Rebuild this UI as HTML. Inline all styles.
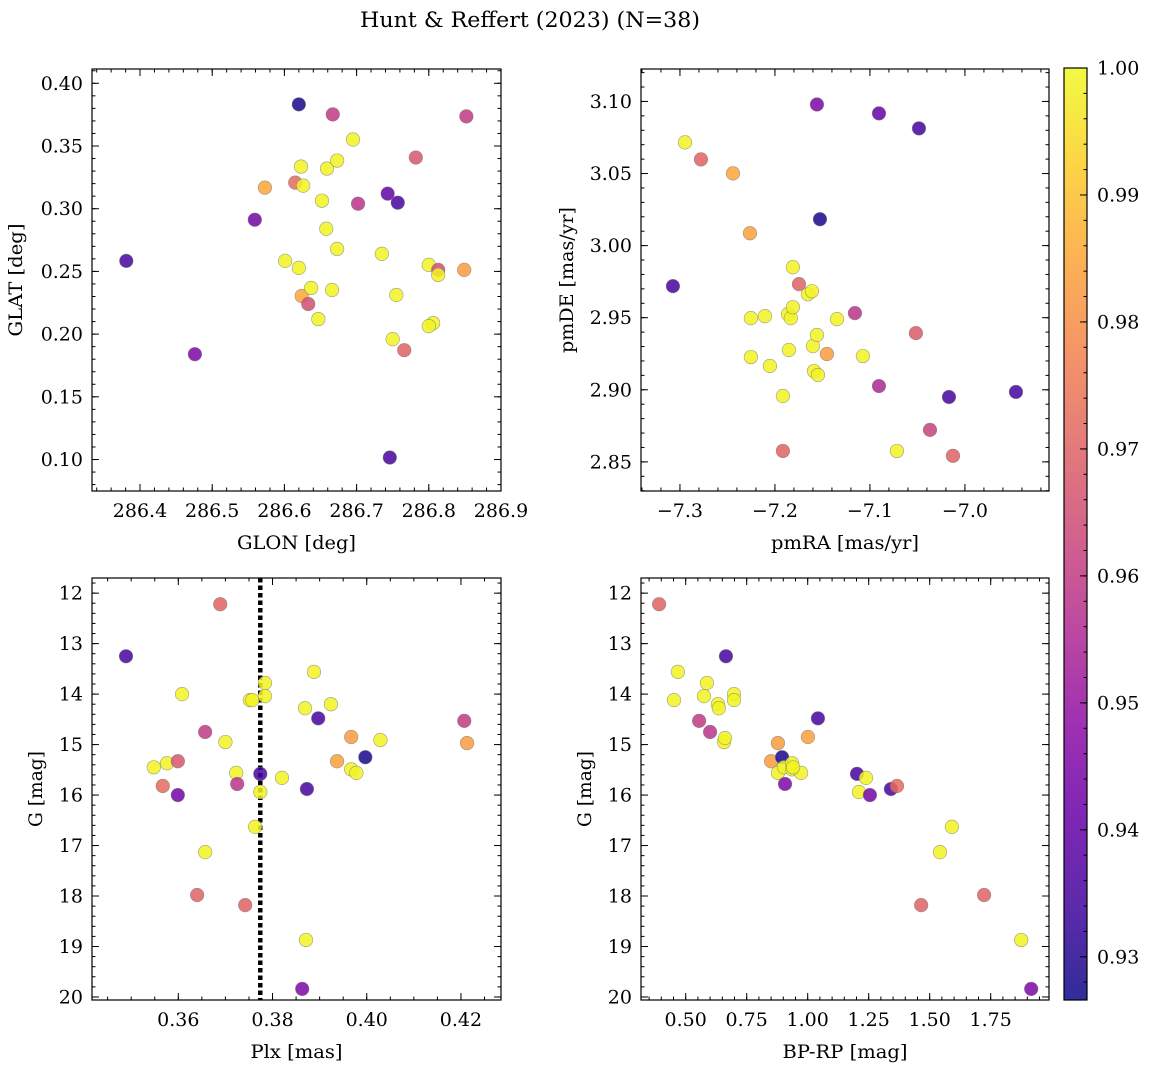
<!DOCTYPE html>
<html><head><meta charset="utf-8">
<style>
html,body{margin:0;padding:0;background:#fff;}
svg{display:block;font-family:"DejaVu Serif","Liberation Serif",serif;}
</style></head>
<body>
<svg id="fig" width="1149" height="1068" viewBox="0 0 1149 1068" xmlns="http://www.w3.org/2000/svg">
<defs>
<linearGradient id="plasma" x1="0" y1="1" x2="0" y2="0">
<stop offset="0" stop-color="#0d0887"/><stop offset="0.1" stop-color="#41049d"/><stop offset="0.2" stop-color="#6a00a8"/><stop offset="0.3" stop-color="#8f0da4"/><stop offset="0.4" stop-color="#b12a90"/><stop offset="0.5" stop-color="#cc4778"/><stop offset="0.6" stop-color="#e16462"/><stop offset="0.7" stop-color="#f2844b"/><stop offset="0.8" stop-color="#fca636"/><stop offset="0.9" stop-color="#fcce25"/><stop offset="1" stop-color="#f0f921"/>
</linearGradient>
</defs>
<text x="530" y="27" text-anchor="middle" font-size="21" textLength="340" lengthAdjust="spacingAndGlyphs" fill="#000">Hunt &amp; Reffert (2023) (N=38)</text>
<g id="plots"></g>
</svg>
<script>
// ---- data ----
const glon = [286.381,286.476,286.559,286.573,286.620,286.615,286.623,286.626,286.601,286.620,286.624,286.633,286.637,286.647,286.652,286.658,286.659,286.666,286.667,286.673,286.673,286.695,286.702,286.735,286.743,286.746,286.757,286.750,286.755,286.766,286.782,286.800,286.806,286.800,286.813,286.813,286.849,286.852];
const glat = [0.2584,0.184,0.2912,0.3168,0.3832,0.3208,0.3336,0.3184,0.2584,0.2528,0.2304,0.224,0.2368,0.212,0.3064,0.284,0.332,0.2352,0.3752,0.3384,0.268,0.3552,0.304,0.264,0.312,0.1016,0.3048,0.196,0.2312,0.1872,0.3408,0.2552,0.2088,0.2064,0.2512,0.2472,0.2512,0.3736];
const probPos = [0.935,0.945,0.943,0.985,0.928,0.972,0.999,0.999,0.999,0.999,0.985,0.965,0.999,0.999,0.999,0.999,0.999,0.999,0.960,0.999,0.999,0.999,0.958,0.999,0.940,0.935,0.935,0.999,0.999,0.970,0.967,0.999,0.999,0.999,0.965,0.999,0.983,0.960];

const pmra = [-7.2947,-7.3074,-7.2779,-7.2442,-7.2263,-7.2253,-7.2253,-7.2105,-7.2053,-7.1916,-7.1916,-7.1863,-7.1853,-7.1832,-7.1811,-7.1811,-7.1747,-7.1653,-7.1611,-7.1600,-7.1589,-7.1558,-7.1558,-7.1547,-7.1526,-7.1453,-7.1347,-7.1158,-7.1074,-7.0905,-7.0905,-7.0716,-7.0368,-7.0516,-7.0484,-7.0168,-7.0126,-6.9463];
const pmde = [3.0716,2.9719,3.0598,3.0501,3.0086,2.9497,2.9227,2.9511,2.9165,2.8576,2.8957,2.9525,2.9276,2.9497,2.9850,2.9573,2.9733,2.9663,2.9684,2.9303,2.9130,3.0979,2.9380,2.9103,3.0183,2.9248,2.9490,2.9532,2.9234,3.0917,2.9026,2.8576,2.8722,2.9393,3.0813,2.8950,2.8542,2.8985];
const probPm = [0.999,0.935,0.970,0.985,0.984,0.999,0.999,0.999,0.999,0.970,0.999,0.999,0.999,0.999,0.999,0.999,0.970,0.999,0.999,0.999,0.999,0.945,0.999,0.999,0.928,0.983,0.999,0.958,0.999,0.940,0.955,0.999,0.962,0.968,0.935,0.935,0.970,0.935];

const plx = [0.3489,0.3689,0.3608,0.3657,0.3700,0.3548,0.3576,0.3599,0.3567,0.3599,0.3723,0.3725,0.3657,0.3640,0.3742,0.3752,0.3757,0.3784,0.3784,0.3774,0.3774,0.3763,0.3820,0.3863,0.3869,0.3873,0.3871,0.3888,0.3897,0.3924,0.3937,0.3967,0.3967,0.3978,0.3997,0.4029,0.4207,0.4213];
const gPlx = [13.25,12.22,14.0,14.75,14.95,15.45,15.37,15.33,15.82,16.0,15.56,15.78,17.13,17.98,18.18,14.12,14.12,13.78,14.04,15.58,15.94,16.63,15.66,19.84,14.28,15.88,18.87,13.56,14.48,14.2,15.33,14.85,15.49,15.56,15.25,14.91,14.53,14.97];
const probPlx = [0.935,0.970,0.999,0.960,0.999,0.999,0.999,0.967,0.972,0.943,0.999,0.958,0.999,0.970,0.970,0.999,0.999,0.999,0.999,0.935,0.999,0.999,0.999,0.945,0.999,0.935,0.999,0.999,0.935,0.999,0.984,0.983,0.999,0.999,0.928,0.999,0.960,0.983];

const bprp = [0.391,0.468,0.452,0.587,0.575,0.555,0.600,0.632,0.636,0.665,0.657,0.661,0.698,0.698,0.850,0.878,0.878,0.895,0.903,0.907,0.936,0.936,0.973,1.001,1.042,1.202,1.239,1.210,1.255,1.341,1.366,1.591,1.542,1.465,1.723,1.875,1.916,0.940];
const gCmd = [12.22,13.56,14.12,13.78,14.04,14.53,14.75,14.2,14.28,13.25,14.95,14.87,14.0,14.12,15.33,14.97,15.56,15.25,15.45,15.78,15.37,15.49,15.56,14.85,14.48,15.58,15.66,15.94,16.0,15.88,15.82,16.63,17.13,18.18,17.98,18.87,19.84,15.45];
const probCmd = [0.970,0.999,0.999,0.999,0.999,0.960,0.958,0.999,0.999,0.935,0.999,0.999,0.999,0.999,0.983,0.983,0.999,0.928,0.999,0.945,0.999,0.999,0.999,0.984,0.935,0.935,0.999,0.999,0.943,0.935,0.972,0.999,0.999,0.970,0.970,0.999,0.945,0.999];

const plxMean = [0.3774];
const cbTicks = [0.93,0.94,0.95,0.96,0.97,0.98,0.99,1.00];

// ---- helpers ----
const NS = "http://www.w3.org/2000/svg";
const root = document.getElementById('plots');
const VMIN = 0.9266, VMAX = 1.0;
const FS = 19;
const stops = [[13,8,135],[65,4,157],[106,0,168],[143,13,164],[177,42,144],[204,71,120],[225,100,98],[242,132,75],[252,166,54],[252,206,37],[240,249,33]];
function plasma(v){
  let t=(v-VMIN)/(VMAX-VMIN); t=Math.max(0,Math.min(1,t));
  const f=t*10, i=Math.min(9,Math.floor(f)), r=f-i;
  const a=stops[i], b=stops[i+1];
  return 'rgb('+a.map((c,k)=>Math.round(c+(b[k]-c)*r)).join(',')+')';
}
function mk(tag, attrs, parent){
  const e=document.createElementNS(NS,tag);
  for(const k in attrs) e.setAttribute(k,attrs[k]);
  (parent||root).appendChild(e); return e;
}
function fmt(v,d){ let s=v.toFixed(d); if(v<0) s='\u2212'+(-v).toFixed(d); return s; }
function numW(s){ let w=0; for(const ch of s){ w += ch==='.'?0.318:(ch==='\u2212'?0.838:0.636); } return w*FS; }
function fitText(t,s){ t.setAttribute('textLength',numW(s).toFixed(1)); t.setAttribute('lengthAdjust','spacingAndGlyphs'); }

function panel(cfg){
  const g=mk('g',{});
  
  
  const {x0,x1,y0,y1}=cfg.box;
  const sx=v=>x0+(v-cfg.xd[0])/(cfg.xd[1]-cfg.xd[0])*(x1-x0);
  const sy=v=>y1-(v-cfg.yd[0])/(cfg.yd[1]-cfg.yd[0])*(y1-y0);
  const clip='clip-'+cfg.name;
  const cp=mk('clipPath',{id:clip},g); mk('rect',{x:x0,y:y0,width:x1-x0,height:y1-y0},cp);
  const tg=mk('g',{stroke:'#000','stroke-width':1},g);
  function ticksX(start,end,step,len){
    for(let v=start; v<=end+1e-9; v+=step){
      const X=sx(v); if(X<x0-0.5||X>x1+0.5) continue;
      mk('line',{x1:X,x2:X,y1:y1,y2:y1-len},tg); mk('line',{x1:X,x2:X,y1:y0,y2:y0+len},tg);
    }
  }
  function ticksY(start,end,step,len){
    for(let v=start; v<=end+1e-9; v+=step){
      const Y=sy(v); if(Y<y0-0.5||Y>y1+0.5) continue;
      mk('line',{x1:x0,x2:x0+len,y1:Y,y2:Y},tg); mk('line',{x1:x1,x2:x1-len,y1:Y,y2:Y},tg);
    }
  }
  ticksX(cfg.xt[0]-cfg.xt[2]*2,cfg.xt[1]+cfg.xt[2]*2,cfg.xt[2]/cfg.xm,3.5);
  ticksX(cfg.xt[0],cfg.xt[1],cfg.xt[2],7);
  ticksY(cfg.yt[0]-cfg.yt[2]*2,cfg.yt[1]+cfg.yt[2]*2,cfg.yt[2]/cfg.ym,3.5);
  ticksY(cfg.yt[0],cfg.yt[1],cfg.yt[2],7);
  for(let v=cfg.xt[0]; v<=cfg.xt[1]+1e-9; v+=cfg.xt[2]){
    const s=fmt(v,cfg.xdec);
    const t=mk('text',{x:sx(v),y:y1+26,'text-anchor':'middle','font-size':FS},g);
    t.textContent=s; fitText(t,s);
    
    
  }
  for(let v=cfg.yt[0]; v<=cfg.yt[1]+1e-9; v+=cfg.yt[2]){
    const s=fmt(v,cfg.ydec);
    const t=mk('text',{x:x0-9,y:sy(v)+6.5,'text-anchor':'end','font-size':FS},g);
    t.textContent=s; fitText(t,s);
    
    
  }
  const xl=mk('text',{x:(x0+x1)/2,y:y1+58,'text-anchor':'middle','font-size':FS,textLength:cfg.xlw,lengthAdjust:'spacingAndGlyphs'},g);
  xl.textContent=cfg.xlabel;
  
  
  const yx=cfg.ylx, yy=(y0+y1)/2;
  const yl=mk('text',{x:yx,y:yy,'text-anchor':'middle','font-size':FS,textLength:cfg.ylw,lengthAdjust:'spacingAndGlyphs',transform:'rotate(-90 '+yx+' '+yy+')'},g);
  yl.textContent=cfg.ylabel;
  
  
  const pg=mk('g',{'clip-path':'url(#'+clip+')'},g);
  if(cfg.vline){
    cfg.vline.forEach(v=>{
      const l=mk('line',{x1:sx(v),x2:sx(v),y1:y0,y2:y1,stroke:'#000','stroke-width':4.5,'stroke-dasharray':'4.5 3'},pg);
      
      
    });
  }
  cfg.xs.forEach((xv,i)=>{
    const c=mk('circle',{cx:sx(xv),cy:sy(cfg.ys[i]),r:6.8,fill:plasma(cfg.cs[i]),'fill-opacity':0.85,stroke:'#777','stroke-width':0.6,'stroke-opacity':0.7},pg);
    
    
  });
  const fr=mk('rect',{x:x0,y:y0,width:x1-x0,height:y1-y0,fill:'none',stroke:'#000','stroke-width':1.2},g);
  
  
}

panel({name:'glon-glat-panel',box:{x0:92,x1:501,y0:69,y1:491},xd:[286.3335,286.9],yd:[0.0749,0.4114],
  xt:[286.4,286.9,0.1],xm:5,yt:[0.10,0.40,0.05],ym:5,xdec:1,ydec:2,xlabel:'GLON [deg]',xlw:119,ylabel:'GLAT [deg]',ylw:113,ylx:22,
  xs:glon,ys:glat,cs:probPos});
panel({name:'proper-motion-panel',box:{x0:641,x1:1049,y0:69,y1:491},xd:[-7.341,-6.9115],yd:[2.8298,3.1225],
  xt:[-7.3,-7.0,0.1],xm:5,yt:[2.85,3.10,0.05],ym:5,xdec:1,ydec:2,xlabel:'pmRA [mas/yr]',xlw:148,ylabel:'pmDE [mas/yr]',ylw:146,ylx:573,
  xs:pmra,ys:pmde,cs:probPm});
panel({name:'parallax-mag-panel',box:{x0:92,x1:501,y0:578,y1:1000},xd:[0.34168,0.4285],yd:[20.06,11.70],
  xt:[0.36,0.42,0.02],xm:4,yt:[12,20,1],ym:5,xdec:2,ydec:0,xlabel:'Plx [mas]',xlw:92,ylabel:'G [mag]',ylw:76,ylx:42,
  xs:plx,ys:gPlx,cs:probPlx,vline:plxMean});
panel({name:'color-magnitude-panel',box:{x0:641,x1:1049,y0:578,y1:1000},xd:[0.3168,1.989],yd:[20.06,11.70],
  xt:[0.5,1.75,0.25],xm:5,yt:[12,20,1],ym:5,xdec:2,ydec:0,xlabel:'BP-RP [mag]',xlw:125,ylabel:'G [mag]',ylw:76,ylx:591,
  xs:bprp,ys:gCmd,cs:probCmd});

// colorbar
(function(){
  const g=mk('g',{});
  
  
  const x0=1064,x1=1087,y0=68,y1=1000;
  const sy=v=>y1-(v-VMIN)/(VMAX-VMIN)*(y1-y0);
  mk('rect',{x:x0,y:y0,width:x1-x0,height:y1-y0,fill:'url(#plasma)','fill-opacity':0.85},g);
  for(let v=0.928; v<=1.0001; v+=0.002){ const Y=sy(v); mk('line',{x1:x1,x2:x1-3.5,y1:Y,y2:Y,stroke:'#000'},g); }
  cbTicks.forEach(v=>{
    const Y=sy(v);
    mk('line',{x1:x1,x2:x1-7,y1:Y,y2:Y,stroke:'#000'},g);
    const s=v.toFixed(2);
    const t=mk('text',{x:x1+10,y:Y+6.5,'font-size':FS},g);
    t.textContent=s; fitText(t,s);
    
    
  });
  mk('rect',{x:x0,y:y0,width:x1-x0,height:y1-y0,fill:'none',stroke:'#000','stroke-width':1.2},g);
})();
</script>
</body></html>
